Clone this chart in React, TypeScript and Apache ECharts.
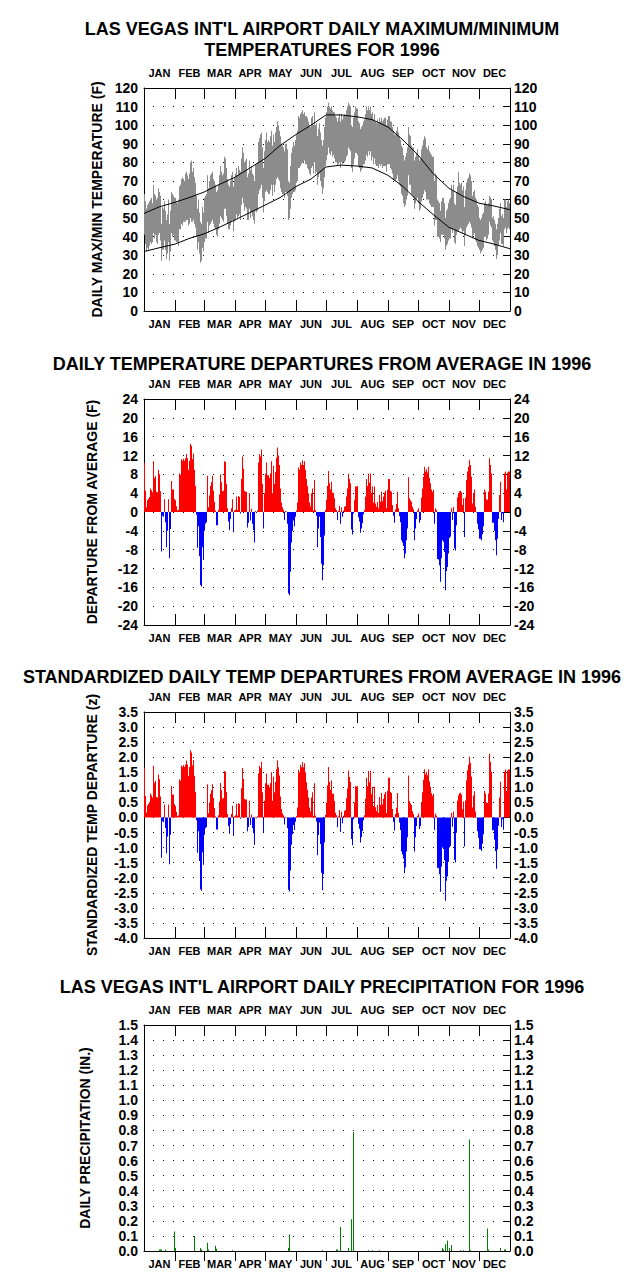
import React, { useEffect, useRef } from "react";
import * as echarts from "echarts";

const FONT = "'Liberation Sans', Arial, Helvetica, sans-serif";

const MONTHS = ["JAN", "FEB", "MAR", "APR", "MAY", "JUN", "JUL", "AUG", "SEP", "OCT", "NOV", "DEC"];
const MONTH_START_DAYS = [31, 60, 91, 121, 152, 182, 213, 244, 274, 305, 335];
const MONTH_LABEL_DAYS = [15.5, 45.5, 75.5, 106, 136.5, 167, 197.5, 228.5, 259, 289.5, 320, 350.5];

// Daily max / min temperature (F), day 0 = Jan 1 1996
const TMAX = [
  63, 59, 55, 57, 58, 59, 60, 61, 58, 68, 63, 62, 60, 61, 66, 64, 62, 47, 56, 55, 59, 54, 49, 52, 60, 47, 54, 64, 63, 62, 61,
  61, 59, 58, 60, 67, 68, 71, 72, 71, 70, 74, 75, 73, 71, 74, 80, 81, 75, 77, 72, 69, 62, 55, 60, 53, 48, 47, 56, 53,
  61, 62, 63, 73, 66, 70, 73, 74, 75, 71, 70, 68, 64, 65, 68, 73, 78, 75, 73, 74, 83, 82, 77, 71, 68, 67, 70, 73, 75, 67, 72,
  74, 77, 73, 78, 76, 75, 82, 88, 85, 80, 81, 82, 72, 74, 81, 76, 78, 74, 73, 70, 79, 79, 80, 91, 93, 95, 96, 88, 77, 86,
  92, 96, 91, 92, 91, 94, 97, 89, 95, 91, 96, 99, 102, 100, 97, 94, 90, 89, 88, 86, 90, 90, 87, 70, 69, 78, 85, 88, 91, 89, 92,
  95, 97, 105, 104, 106, 107, 108, 106, 107, 105, 105, 104, 102, 100, 99, 104, 105, 100, 107, 100, 101, 94, 98, 101, 96, 92, 89, 92, 99, 104,
  107, 110, 112, 110, 109, 110, 108, 107, 107, 105, 104, 102, 104, 106, 102, 106, 103, 105, 106, 105, 108, 110, 112, 111, 110, 100, 99, 104, 107, 110, 109,
  109, 102, 101, 98, 99, 100, 102, 103, 106, 110, 108, 110, 108, 110, 106, 107, 103, 106, 102, 101, 103, 101, 104, 102, 104, 102, 103, 104, 104, 100, 103,
  105, 105, 102, 102, 99, 97, 95, 95, 97, 99, 96, 94, 92, 89, 88, 84, 81, 83, 85, 88, 99, 95, 94, 89, 88, 88, 81, 83, 85, 87,
  84, 81, 82, 87, 89, 92, 94, 93, 88, 87, 89, 86, 85, 84, 83, 83, 70, 74, 73, 60, 59, 58, 54, 59, 61, 61, 58, 50, 54, 55, 58,
  60, 61, 68, 65, 68, 58, 57, 64, 67, 75, 69, 68, 69, 65, 67, 56, 65, 69, 71, 72, 74, 73, 70, 62, 64, 65, 61, 60, 57, 56,
  50, 49, 50, 52, 53, 58, 59, 57, 57, 58, 62, 61, 60, 50, 51, 49, 47, 44, 47, 50, 55, 58, 51, 52, 50, 60, 60, 56, 59, 60, 58,
];
const TMIN = [
  41, 36, 32, 34, 33, 35, 37, 36, 37, 42, 39, 41, 37, 36, 41, 42, 38, 27, 33, 33, 38, 33, 28, 31, 37, 27, 32, 42, 40, 41, 38,
  38, 37, 37, 35, 44, 44, 47, 46, 48, 48, 48, 49, 49, 46, 47, 50, 48, 48, 49, 47, 45, 40, 33, 37, 31, 26, 27, 34, 32,
  37, 39, 39, 48, 42, 46, 47, 48, 49, 47, 45, 44, 41, 40, 44, 47, 51, 50, 49, 48, 55, 55, 51, 47, 44, 44, 46, 48, 49, 43, 48,
  49, 52, 50, 51, 52, 49, 57, 61, 58, 54, 56, 55, 49, 49, 55, 50, 53, 51, 49, 47, 54, 53, 54, 63, 65, 66, 68, 61, 53, 59,
  64, 65, 64, 63, 63, 65, 68, 62, 68, 64, 68, 71, 72, 71, 70, 66, 64, 63, 63, 61, 64, 64, 62, 49, 50, 55, 61, 63, 64, 64, 65,
  69, 70, 77, 77, 78, 79, 80, 80, 81, 79, 79, 77, 76, 74, 73, 77, 78, 74, 80, 74, 75, 68, 72, 74, 70, 67, 63, 66, 72, 78,
  81, 84, 88, 85, 84, 86, 83, 84, 82, 80, 80, 78, 79, 80, 77, 80, 79, 80, 80, 81, 83, 84, 88, 87, 86, 77, 75, 79, 82, 85, 85,
  84, 78, 77, 75, 76, 77, 79, 79, 81, 84, 83, 86, 84, 86, 81, 83, 79, 82, 79, 78, 78, 77, 79, 78, 79, 77, 78, 78, 78, 75, 79,
  79, 79, 77, 76, 74, 71, 70, 70, 71, 73, 70, 68, 67, 63, 62, 58, 56, 57, 60, 62, 73, 68, 68, 63, 62, 61, 55, 58, 60, 61,
  58, 54, 55, 59, 61, 63, 65, 64, 60, 60, 60, 58, 57, 56, 56, 56, 46, 49, 49, 40, 40, 39, 37, 41, 41, 41, 39, 33, 35, 36, 38,
  39, 39, 44, 42, 44, 37, 36, 41, 43, 43, 44, 45, 44, 42, 43, 35, 41, 45, 46, 47, 48, 47, 45, 39, 41, 42, 38, 37, 35, 34,
  33, 31, 32, 33, 34, 40, 40, 38, 39, 41, 48, 46, 45, 38, 37, 35, 33, 28, 30, 35, 38, 42, 36, 36, 35, 44, 45, 42, 44, 45, 44,
];

// Normal max / min curves (read at these days)
const NORMAL_DAY = [0, 15, 31, 45, 60, 75, 91, 106, 121, 136, 152, 167, 182, 197, 213, 228, 244, 259, 274, 289, 305, 320, 335, 350, 366];
const NORMAL_MAX = [52.5, 56, 58.5, 61, 64, 68, 72, 77, 82, 89, 95, 100, 105.5, 105.5, 104.5, 103, 99, 92, 84, 74, 66, 61.5, 58, 56.5, 54.5];
const NORMAL_MIN = [32, 34, 36, 39, 41.5, 45, 49, 53, 57, 61, 67, 71, 77.5, 78.5, 78, 77, 73, 67, 59, 52, 45, 41.5, 38, 36, 33.5];

// Daily temperature departure from average (F)
const DEPARTURE = [
  10.4, 4.5, 1.0, 2.5, 2.8, 3.2, 5.0, 4.6, 4.2, 10.8, 7.2, 7.6, 4.3, 4.2, 9.0, 8.0, 4.4, -8.4, -0.8, -1.0, 2.7, -2.2, -7.5, -4.0, 2.7, -9.8, -3.6, 6.6, 4.8, 4.8, 2.8,
  2.5, 1.2, 0.3, 0.5, 8.2, 7.9, 11.2, 10.9, 11.3, 10.9, 11.4, 12.3, 11.4, 9.0, 10.9, 14.5, 14.0, 11.2, 12.4, 9.0, 5.5, -0.6, -7.6, -3.0, -9.4, -15.5, -15.8, -7.5, -10.2,
  -4.0, -2.5, -2.2, 7.7, 1.0, 3.5, 5.5, 6.3, 7.7, 4.5, 2.2, 0.3, -2.8, -2.8, 0.5, 3.7, 8.0, 6.3, 4.4, 4.5, 10.8, 10.6, 6.0, 0.8, -2.0, -3.8, -1.5, 0.8, 2.7, -4.3, 0.3,
  0.5, 3.3, 0.4, 3.4, 3.2, -0.3, 7.0, 11.8, 9.2, 4.5, 4.3, 4.3, -3.3, -2.3, 4.0, -1.8, 0.7, -2.5, -3.8, -6.5, 0.2, -0.2, 0.3, 10.5, 12.3, 11.8, 13.3, 6.0, -3.5, 4.0,
  8.2, 10.5, 7.8, 7.8, 7.2, 8.2, 10.8, 4.0, 9.8, 6.0, 8.5, 11.5, 13.7, 12.0, 10.0, 5.0, 2.0, 1.0, 0.5, -1.7, 0.2, 0.1, -2.5, -17.3, -17.7, -12.7, -6.5, -4.0, -1.8, -3.0, -1.0,
  0.3, 2.0, 9.5, 9.0, 10.5, 10.0, 11.0, 10.0, 10.8, 9.0, 7.0, 5.5, 4.0, 2.0, 1.2, 4.0, 5.0, 0.3, 6.8, 0.4, -0.8, -7.5, -3.5, -1.0, -5.3, -11.0, -14.5, -11.3, -5.0, 0.5,
  2.6, 5.5, 8.7, 6.1, 4.8, 6.4, 4.1, 4.1, 2.9, 0.8, 0.4, -1.7, 0.2, 1.3, -2.5, 1.0, -1.0, 0.3, 1.1, 1.3, 3.3, 5.0, 8.1, 7.0, 6.1, -3.7, -4.8, -0.3, 2.6, 5.4, 5.4,
  5.5, -1.1, -2.0, -4.4, -3.5, -2.4, -0.5, 0.4, 3.3, 7.0, 5.5, 8.2, 6.2, 8.2, 4.1, 5.4, 2.0, 5.4, 1.8, 1.1, 2.2, 0.8, 3.6, 2.2, 4.3, 2.3, 3.3, 4.1, 4.5, 0.8, 4.7,
  7.0, 7.0, 4.5, 4.3, 1.5, -0.8, -2.3, 0.6, 1.7, 4.3, 0.8, -0.9, -2.2, -6.0, -6.5, -7.2, -9.8, -8.8, -6.0, -3.5, 7.4, 2.9, 2.5, 2.2, 1.1, 0.6, -6.0, -3.5, -1.5, 0.3,
  0.8, -2.3, -1.7, 3.1, 5.0, 7.5, 9.6, 8.6, 9.1, 8.4, 9.6, 7.2, 6.1, 4.8, 4.3, 4.7, -2.5, 0.8, 0.4, -10.0, -10.1, -11.3, -14.8, -9.8, -6.0, -6.3, -8.5, -16.6, -12.6, -11.7, -8.8,
  -5.5, -5.2, 0.8, -1.7, 1.1, -7.7, -8.2, -2.8, 3.1, 4.0, 4.4, 4.5, 4.2, 1.5, 2.9, -5.3, 3.1, 6.8, 8.6, 9.6, 11.1, 10.0, 7.5, 1.8, 4.0, 4.8, 1.1, -0.1, -2.5, -3.7,
  -5.7, -5.7, -6.0, -4.7, -3.0, 4.8, 4.3, 2.7, 2.6, 4.3, 11.4, 10.0, 8.2, -2.3, -2.3, -4.0, -6.0, -9.2, -5.7, -1.5, 3.6, 6.4, -1.7, -0.3, -2.2, 8.2, 8.6, 4.8, 8.4, 8.6, 8.6,
];

const SD_BY_MONTH = [6.3, 6.5, 7.0, 7.2, 7.2, 6.0, 5.2, 5.3, 5.3, 6.0, 5.5, 5.4];

// Daily precipitation (in.)
const PRECIP_DAY = [15, 16, 17, 21, 30, 31, 50, 56, 57, 63, 64, 71, 72, 88, 144, 145, 178, 192, 193, 196, 204, 207, 209, 224, 228, 235, 298, 299, 301, 303, 305, 307, 316, 319, 325, 326, 343, 344, 356, 360, 361];
const PRECIP_IN = [0.01, 0.01, 0.01, 0.01, 0.13, 0.02, 0.1, 0.02, 0.01, 0.055, 0.01, 0.035, 0.015, 0.005, 0.02, 0.11, 0.005, 0.01, 0.01, 0.16, 0.02, 0.21, 0.79, 0.005, 0.005, 0.005, 0.02, 0.01, 0.045, 0.07, 0.02, 0.04, 0.005, 0.005, 0.74, 0.005, 0.15, 0.01, 0.02, 0.01, 0.01];

const RED = "#ff0000";
const BLUE = "#0000ff";
const GRAY = "#8c8c8c";
const GREEN = "#008000";

const monthOfDay = (d: number) => {
  let m = 0;
  for (let i = 0; i < MONTH_START_DAYS.length; i++) if (d >= MONTH_START_DAYS[i]) m = i + 1;
  return m;
};

const boldText = { color: "#000", fontFamily: FONT, fontWeight: "bold" };

function xAxesFor(g: number, bottomTicksOutside = false) {
  const base: any = {
    gridIndex: g,
    type: "value",
    min: 0,
    max: 366,
    axisLine: { show: true, onZero: false, lineStyle: { color: "#000", width: 1 } },
    axisTick: { show: true, inside: true, length: 11, customValues: MONTH_START_DAYS, lineStyle: { color: "#000", width: 1 } },
    axisLabel: {
      ...boldText,
      fontSize: 11,
      margin: 7,
      customValues: MONTH_LABEL_DAYS,
      formatter: (v: number) => MONTHS[MONTH_LABEL_DAYS.indexOf(v)] ?? "",
    },
    splitLine: { show: false },
  };
  const bottom: any = { ...base, position: "bottom" };
  if (bottomTicksOutside) {
    bottom.axisTick = { ...base.axisTick, inside: false, length: 10 };
    bottom.axisLabel = { ...base.axisLabel, margin: 7 };
  }
  return [bottom, { ...base, position: "top", axisLabel: { ...base.axisLabel, margin: 10 } }];
}

function yAxesFor(g: number, min: number, max: number, interval: number, fmt: (v: number) => string, name: string, nameGap: number) {
  const label = { ...boldText, fontSize: 14, margin: 6, formatter: fmt };
  return [
    {
      gridIndex: g,
      type: "value",
      min,
      max,
      interval,
      position: "left",
      name,
      nameLocation: "middle",
      nameRotate: 90,
      nameGap,
      nameTextStyle: { ...boldText, fontSize: 14 },
      axisLine: { show: true, onZero: false, lineStyle: { color: "#000", width: 1 } },
      axisTick: { show: false },
      axisLabel: label,
      splitLine: { show: true, lineStyle: { color: "#000", width: 1, type: [1, 9], dashOffset: 1 } },
    },
    {
      gridIndex: g,
      type: "value",
      min,
      max,
      interval,
      position: "right",
      axisLine: { show: true, onZero: false, lineStyle: { color: "#000", width: 1 } },
      axisTick: { show: true, inside: true, length: 7, lineStyle: { color: "#000", width: 1 } },
      axisLabel: { ...label, margin: 4 },
      splitLine: { show: false },
    },
  ];
}

const intFmt = (v: number) => String(Math.round(v));
const oneDec = (v: number) => (Math.round(v * 10) / 10).toFixed(1);

export default function App() {
  const ref = useRef<HTMLDivElement>(null);

  useEffect(() => {
    if (!ref.current) return;
    const chart = echarts.init(ref.current, null, { renderer: "svg" });

    const std = DEPARTURE.map((v, i) => v / SD_BY_MONTH[monthOfDay(i)]);
    const signColor = (p: any) => (p.value[1] >= 0 ? RED : BLUE);

    const titleStyle = { ...boldText, fontSize: 18, lineHeight: 22 };

    const option: any = {
      animation: false,
      backgroundColor: "#ffffff",
      title: [
        { text: "LAS VEGAS INT'L AIRPORT DAILY MAXIMUM/MINIMUM", left: "center", top: 13, textStyle: titleStyle },
        { text: "TEMPERATURES FOR 1996", left: "center", top: 34, textStyle: titleStyle },
        { text: "DAILY TEMPERATURE DEPARTURES FROM AVERAGE IN 1996", left: "center", top: 348, textStyle: titleStyle },
        { text: "STANDARDIZED DAILY TEMP DEPARTURES FROM AVERAGE IN 1996", left: "center", top: 661, textStyle: titleStyle },
        { text: "LAS VEGAS INT'L AIRPORT DAILY PRECIPITATION FOR 1996", left: "center", top: 971, textStyle: titleStyle },
      ],
      grid: [
        { left: 144, top: 88, width: 366, height: 223 },
        { left: 144, top: 399, width: 366, height: 226 },
        { left: 144, top: 712, width: 366, height: 226 },
        { left: 144, top: 1025, width: 366, height: 226 },
      ],
      xAxis: [...xAxesFor(0), ...xAxesFor(1), ...xAxesFor(2), ...xAxesFor(3, true)],
      yAxis: [
        ...yAxesFor(0, 0, 120, 10, intFmt, "DAILY MAX/MIN TEMPERATURE (F)", 38),
        ...yAxesFor(1, -24, 24, 4, intFmt, "DEPARTURE FROM AVERAGE (F)", 45),
        ...yAxesFor(2, -4, 3.5, 0.5, oneDec, "STANDARDIZED TEMP DEPARTURE (z)", 45),
        ...yAxesFor(3, 0, 1.5, 0.1, oneDec, "DAILY PRECIPITATION (IN.)", 52),
      ],
      series: [
        {
          type: "custom",
          name: "Daily range",
          xAxisIndex: 0,
          yAxisIndex: 0,
          silent: true,
          data: TMAX.map((hi, i) => [i + 0.5, TMIN[i], hi]),
          encode: { x: 0, y: [1, 2] },
          renderItem: (_params: any, api: any) => {
            const x = api.value(0);
            const top = api.coord([x, api.value(2)]);
            const bot = api.coord([x, api.value(1)]);
            const w = api.size([1, 0])[0];
            return {
              type: "rect",
              shape: { x: top[0] - w / 2, y: top[1], width: w, height: bot[1] - top[1] },
              style: { fill: GRAY },
            };
          },
          z: 2,
        },
        {
          type: "line",
          name: "Normal max",
          xAxisIndex: 0,
          yAxisIndex: 0,
          silent: true,
          symbol: "none",
          data: NORMAL_DAY.map((d, i) => [d, NORMAL_MAX[i]]),
          lineStyle: { color: "#000", width: 1 },
          z: 5,
        },
        {
          type: "line",
          name: "Normal min",
          xAxisIndex: 0,
          yAxisIndex: 0,
          silent: true,
          symbol: "none",
          data: NORMAL_DAY.map((d, i) => [d, NORMAL_MIN[i]]),
          lineStyle: { color: "#000", width: 1 },
          z: 5,
        },
        {
          type: "bar",
          name: "Departure",
          xAxisIndex: 2,
          yAxisIndex: 2,
          silent: true,
          barWidth: 1,
          data: DEPARTURE.map((v, i) => [i + 0.5, v]),
          itemStyle: { color: signColor },
        },
        {
          type: "bar",
          name: "Standardized departure",
          xAxisIndex: 4,
          yAxisIndex: 4,
          silent: true,
          barWidth: 1,
          data: std.map((v, i) => [i + 0.5, v]),
          itemStyle: { color: signColor },
        },
        {
          type: "bar",
          name: "Precipitation",
          xAxisIndex: 6,
          yAxisIndex: 6,
          silent: true,
          barWidth: 1,
          data: PRECIP_DAY.map((d, i) => [d + 0.5, PRECIP_IN[i]]),
          itemStyle: { color: GREEN },
        },
      ],
    };

    chart.setOption(option);
    return () => chart.dispose();
  }, []);

  return (
    <div
      ref={ref}
      style={{ position: "absolute", left: 0, top: 0, width: 644, height: 1280, background: "#fff" }}
    />
  );
}
